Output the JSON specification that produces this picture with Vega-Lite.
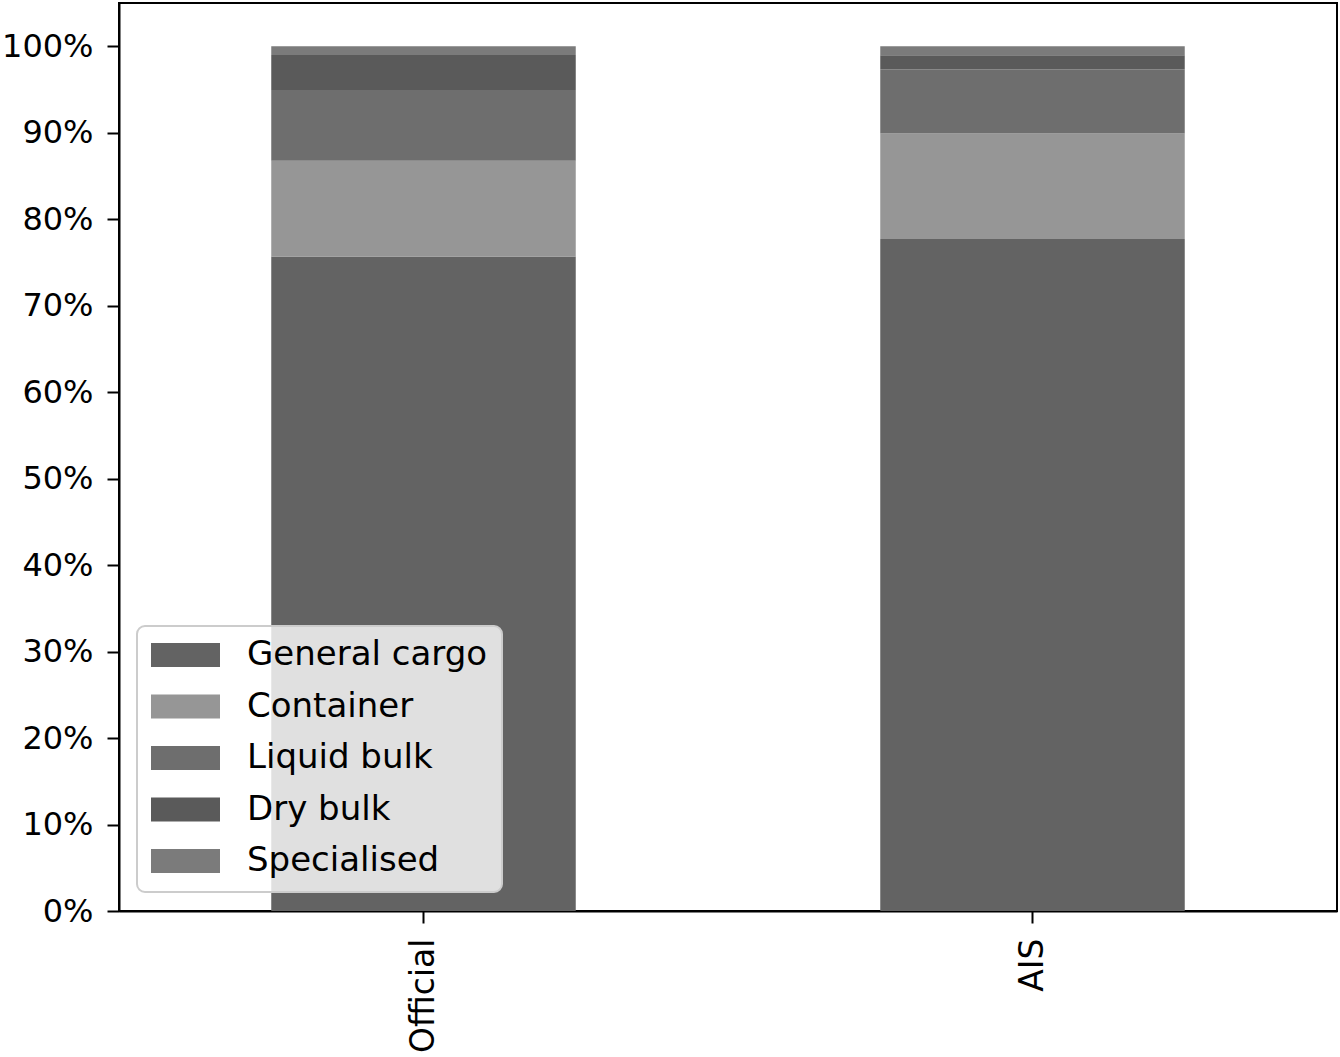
{
  "$schema": "https://vega.github.io/schema/vega-lite/v6.json",
  "width": 1218,
  "height": 908,
  "autosize": {"type": "none"},
  "padding": {"left": 119, "top": 3, "right": 3, "bottom": 146},
  "background": "white",
  "config": {
    "font": "DejaVu Sans",
    "view": {"stroke": "black", "strokeWidth": 2},
    "axis": {
      "labelFont": "DejaVu Sans",
      "labelColor": "black",
      "domainColor": "black",
      "domainWidth": 2,
      "tickColor": "black",
      "tickWidth": 2,
      "tickSize": 12,
      "grid": false,
      "title": null
    }
  },
  "data": {
    "values": [
      {"source": "Official", "type": "General cargo", "share": 0.757, "ord": 1},
      {"source": "Official", "type": "Container", "share": 0.1105, "ord": 2},
      {"source": "Official", "type": "Liquid bulk", "share": 0.082, "ord": 3},
      {"source": "Official", "type": "Dry bulk", "share": 0.0405, "ord": 4},
      {"source": "Official", "type": "Specialised", "share": 0.01, "ord": 5},
      {"source": "AIS", "type": "General cargo", "share": 0.777, "ord": 1},
      {"source": "AIS", "type": "Container", "share": 0.122, "ord": 2},
      {"source": "AIS", "type": "Liquid bulk", "share": 0.074, "ord": 3},
      {"source": "AIS", "type": "Dry bulk", "share": 0.0165, "ord": 4},
      {"source": "AIS", "type": "Specialised", "share": 0.0105, "ord": 5}
    ]
  },
  "mark": {"type": "bar"},
  "encoding": {
    "x": {
      "field": "source",
      "type": "nominal",
      "sort": ["Official", "AIS"],
      "scale": {"paddingInner": 0.5, "paddingOuter": 0.25},
      "axis": {"labelAngle": -90, "labelAlign": "right", "labelBaseline": "middle", "labelPadding": 15, "labelFontSize": 33}
    },
    "y": {
      "field": "share",
      "type": "quantitative",
      "stack": "zero",
      "scale": {"domain": [0, 1.05], "nice": false},
      "axis": {"values": [0, 0.1, 0.2, 0.3, 0.4, 0.5, 0.6, 0.7, 0.8, 0.9, 1.0], "format": ".0%", "labelPadding": 14, "labelFontSize": 32}
    },
    "order": {"field": "ord", "type": "quantitative"},
    "color": {
      "field": "type",
      "type": "nominal",
      "sort": ["General cargo", "Container", "Liquid bulk", "Dry bulk", "Specialised"],
      "scale": {
        "domain": ["General cargo", "Container", "Liquid bulk", "Dry bulk", "Specialised"],
        "range": ["#636363", "#969696", "#6e6e6e", "#5a5a5a", "#7b7b7b"]
      },
      "legend": {
        "title": null,
        "orient": "none",
        "legendX": 18,
        "legendY": 623,
        "fillColor": "rgba(255,255,255,0.8)",
        "strokeColor": "#cccccc",
        "cornerRadius": 8,
        "padding": 14,
        "symbolType": "M-1,-0.35H1V0.35H-1Z",
        "symbolSize": 4761,
        "symbolStrokeWidth": 0,
        "symbolOpacity": 1,
        "labelFont": "DejaVu Sans",
        "labelFontSize": 34,
        "labelColor": "black",
        "labelOffset": 27,
        "clipHeight": 30,
        "rowPadding": 17.5,
        "labelLimit": 400,
        "encode": {"legend": {"update": {"strokeWidth": {"value": 2}}}}
      }
    }
  }
}
